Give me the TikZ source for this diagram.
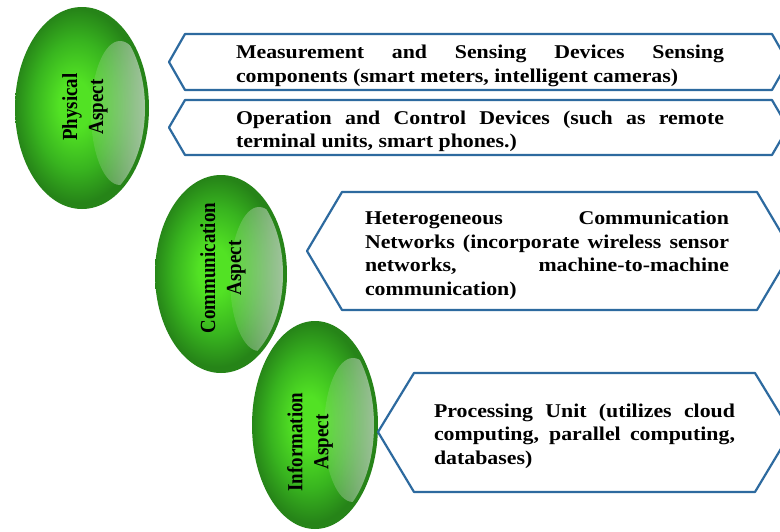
\documentclass[tikz,border=0pt]{standalone}
\usepackage{fontspec}
\setmainfont{Liberation Serif}[FakeStretch=1.12]
\newfontfamily\plainserif{Liberation Serif}[FakeStretch=0.88]
\usetikzlibrary{fadings,shapes.geometric}
\definecolor{dgreen}{HTML}{268418}
\definecolor{mgreen}{HTML}{38B41F}
\definecolor{lgreen}{HTML}{52E224}
\definecolor{hlcolor}{HTML}{D2E0D2}
\definecolor{boxblue}{HTML}{2D6A9F}
\pgfdeclareradialshading{greenball}{\pgfpoint{-3bp}{1bp}}{color(0bp)=(lgreen); color(6bp)=(lgreen); color(16bp)=(mgreen); color(24bp)=(dgreen); color(50bp)=(dgreen)}
\tikzset{
  ball/.style={ellipse, inner sep=0pt, outer sep=0pt, shading=greenball},
  balltext/.style={rotate=90, align=center, inner sep=0pt,
    font=\plainserif\fontsize{21.5}{26}\selectfont\bfseries},
  hexbox/.style={draw=boxblue, line width=2.2pt, fill=white, line join=round},
  boxtext/.style={align=justify, inner sep=0pt,
    font=\fontsize{19.5}{23.5}\selectfont\bfseries}
}
\newcommand{\glassy}[4]{%
  \begin{scope}
    \clip (#1,#2) ellipse [x radius=#3-4, y radius=#4-4];
    \fill[hlcolor, fill opacity=0.12] (#1+38,#2+5) ellipse [x radius=29, y radius=72];
    \fill[hlcolor, fill opacity=0.75, path fading=west] (#1+38,#2+5) ellipse [x radius=29, y radius=72];
  \end{scope}}
\begin{document}
\begin{tikzpicture}[x=1pt,y=-1pt]
\useasboundingbox (0,0) rectangle (780,531);
\fill[white] (0,0) rectangle (780,531);

% ellipses
\node[ball, minimum width=134pt, minimum height=202pt] (phys) at (82,108) {};
\glassy{82}{108}{67}{101}
\node[balltext] (physt) at (85,107) {Physical\\Aspect};

\node[ball, minimum width=132pt, minimum height=198pt] (comm) at (221,274) {};
\glassy{221}{274}{66}{99}
\node[balltext] (commt) at (223,268) {Communication\\Aspect};

\node[ball, minimum width=126pt, minimum height=208pt] (info) at (315,425) {};
\glassy{315}{425}{63}{104}
\node[balltext] (infot) at (310,442) {Information\\Aspect};

% boxes
\draw[hexbox] (169,62) -- (185,34) -- (772,34) -- (788,62) -- (772,90) -- (185,90) -- cycle;
\node[boxtext, text width=488pt] (b1) at (480,66) {Measurement and Sensing Devices Sensing\linebreak components (smart meters, intelligent cameras)};

\draw[hexbox] (169,127.5) -- (185,100) -- (772,100) -- (788,127.5) -- (772,155) -- (185,155) -- cycle;
\node[boxtext, text width=488pt] (b2) at (480,131.5) {Operation and Control Devices (such as remote\linebreak terminal units, smart phones.)};

\draw[hexbox] (307,251) -- (342,192) -- (757,192) -- (792,251) -- (757,310) -- (342,310) -- cycle;
\node[boxtext, text width=364pt] (b3) at (547,255.5) {Heterogeneous Communication\linebreak Networks (incorporate wireless sensor\linebreak networks, machine-to-machine\linebreak communication)};

\draw[hexbox] (378,432) -- (414,373) -- (755,373) -- (791,432) -- (755,492) -- (414,492) -- cycle;
\node[boxtext, text width=301pt] (b4) at (584.5,436) {Processing Unit (utilizes cloud\linebreak computing, parallel computing,\linebreak databases)};
\end{tikzpicture}
\end{document}
